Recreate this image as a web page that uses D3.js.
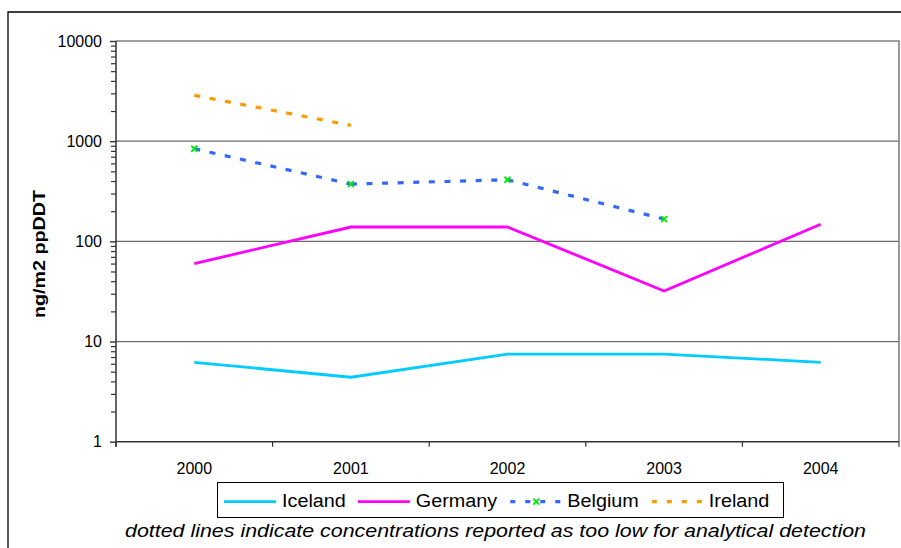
<!DOCTYPE html>
<html>
<head>
<meta charset="utf-8">
<script src="https://cdn.jsdelivr.net/npm/d3@7"></script>
<style>
  html, body { margin: 0; padding: 0; background: #fff; }
  svg { display: block; font-family: Arial, "Liberation Sans", sans-serif; }
</style>
</head>
<body>
<svg id="chart" width="901" height="548"></svg>
<script>
// Deposition of ppDDT (ng/m2), per country and year
const years = ["2000", "2001", "2002", "2003", "2004"];
const iceland = [6.2, 4.4, 7.5, 7.5, 6.2];
const germany = [60, 139, 139, 32, 148];
const belgium = [840, 373, 412, 167, null];
const ireland = [2870, 1440, null, null, null];
const yMajorTicks = [1, 10, 100, 1000, 10000];
const yAxisTitle = "ng/m2 ppDDT";
const footnote = "dotted lines indicate concentrations reported as too low for analytical detection";

const series = [
  { name: "Iceland", values: iceland, color: "#00ccff", dashed: false, marker: false },
  { name: "Germany", values: germany, color: "#ff00ff", dashed: false, marker: false },
  { name: "Belgium", values: belgium, color: "#3366ff", dashed: true, marker: true },
  { name: "Ireland", values: ireland, color: "#ff9900", dashed: true, marker: false }
];

const svg = d3.select("#chart");
const plot = { left: 116, right: 899, top: 41, bottom: 441.7 };
const dash = "6,9.6";

// outer frame (runs off the right and bottom edges)
svg.append("path")
  .attr("d", "M8,560 V12 H910")
  .attr("fill", "none").attr("stroke", "#000").attr("stroke-width", 1.3);

const x = d3.scaleBand().domain(years).range([plot.left, plot.right]).padding(0);
const cx = d => x(d) + x.bandwidth() / 2;
const y = d3.scaleLog().domain([1, 10000]).range([plot.bottom, plot.top]);

// gridlines at each decade
svg.append("g").selectAll("line")
  .data(yMajorTicks.slice(1, -1))
  .join("line")
  .attr("x1", plot.left).attr("x2", plot.right)
  .attr("y1", d => y(d)).attr("y2", d => y(d))
  .attr("stroke", "#6a6a6a").attr("stroke-width", 1.2);

// plot border (top and right)
svg.append("path")
  .attr("d", `M${plot.left},${y(10000)} H${plot.right} V${plot.bottom}`)
  .attr("fill", "none").attr("stroke", "#808080").attr("stroke-width", 1.6);

// y axis: minor ticks, then major ticks with labels
const minorTicks = [];
for (let p = 0; p < 4; p++) for (let m = 2; m <= 9; m++) minorTicks.push(m * Math.pow(10, p));

svg.append("g")
  .attr("transform", `translate(${plot.left},0)`)
  .call(d3.axisLeft(y).tickValues(minorTicks).tickSize(5).tickFormat(""))
  .call(g => g.select(".domain").remove())
  .call(g => g.selectAll("line").attr("stroke", "#333").attr("stroke-width", 1.2));

svg.append("g")
  .attr("transform", `translate(${plot.left},0)`)
  .call(d3.axisLeft(y).tickValues(yMajorTicks).tickSize(6).tickPadding(8).tickFormat(d3.format("d")))
  .call(g => g.select(".domain").remove())
  .call(g => g.selectAll("line").attr("stroke", "#333").attr("stroke-width", 1.4))
  .call(g => g.selectAll("text").attr("font-size", 16).attr("fill", "#000")
    .attr("font-family", "Arial, 'Liberation Sans', sans-serif"));

svg.append("line")
  .attr("x1", plot.left).attr("x2", plot.left)
  .attr("y1", y(10000)).attr("y2", plot.bottom + 5)
  .attr("stroke", "#333").attr("stroke-width", 1.5);

// x axis: category labels centred, ticks at category boundaries
svg.append("g")
  .attr("transform", `translate(0,${plot.bottom})`)
  .call(d3.axisBottom(x).tickSize(0).tickPadding(21))
  .call(g => g.select(".domain").remove())
  .call(g => g.selectAll("text").attr("font-size", 16).attr("fill", "#000")
    .attr("font-family", "Arial, 'Liberation Sans', sans-serif"));

svg.append("line")
  .attr("x1", plot.left).attr("x2", plot.right)
  .attr("y1", plot.bottom).attr("y2", plot.bottom)
  .attr("stroke", "#333").attr("stroke-width", 1.6);

const boundaries = years.map(d => x(d)).concat([plot.right]);
svg.append("g").selectAll("line")
  .data(boundaries)
  .join("line")
  .attr("x1", d => d).attr("x2", d => d)
  .attr("y1", plot.bottom).attr("y2", plot.bottom + 5)
  .attr("stroke", "#333").attr("stroke-width", 1.2);

// y axis title
svg.append("text")
  .attr("transform", `translate(45,254) rotate(-90)`)
  .attr("text-anchor", "middle")
  .attr("font-size", 16).attr("font-weight", "bold")
  .attr("textLength", 128).attr("lengthAdjust", "spacingAndGlyphs")
  .text(yAxisTitle);

// series lines
const line = d3.line().x(d => cx(d.year)).y(d => y(d.value));
const linesG = svg.append("g");
series.forEach(s => {
  const pts = years.map((yr, i) => ({ year: yr, value: s.values[i] })).filter(d => d.value != null);
  if (s.dashed) {
    // dashed series restart their dash pattern at every point
    for (let i = 0; i < pts.length - 1; i++) {
      linesG.append("path")
        .attr("d", line([pts[i], pts[i + 1]]))
        .attr("fill", "none").attr("stroke", s.color)
        .attr("stroke-width", 3.2).attr("stroke-dasharray", dash);
    }
  } else {
    linesG.append("path")
      .attr("d", line(pts))
      .attr("fill", "none").attr("stroke", s.color)
      .attr("stroke-width", 2.8).attr("stroke-linejoin", "miter");
  }
  if (s.marker) {
    linesG.append("g").selectAll("path")
      .data(pts)
      .join("path")
      .attr("transform", d => `translate(${cx(d.year)},${y(d.value)})`)
      .attr("d", "M-3,-3L3,3M-3,3L3,-3")
      .attr("stroke", "#00ee00").attr("stroke-width", 1.8);
  }
});

// legend
const legend = svg.append("g");
legend.append("rect")
  .attr("x", 217.5).attr("y", 482.5).attr("width", 566).attr("height", 35)
  .attr("fill", "#fff").attr("stroke", "#000").attr("stroke-width", 1);

let lx = 224;
const ly = 501.7;
series.forEach(s => {
  const l = legend.append("line")
    .attr("x1", lx).attr("x2", lx + 52).attr("y1", ly).attr("y2", ly)
    .attr("stroke", s.color).attr("stroke-width", s.dashed ? 3.2 : 2.8);
  if (s.dashed) l.attr("stroke-dasharray", "5,10").attr("stroke-dashoffset", -1);
  if (s.marker) {
    legend.append("path")
      .attr("transform", `translate(${lx + 27},${ly})`)
      .attr("d", "M-3,-3L3,3M-3,3L3,-3")
      .attr("stroke", "#00ee00").attr("stroke-width", 1.8);
  }
  const t = legend.append("text")
    .attr("x", lx + 58).attr("y", ly + 5.5)
    .attr("font-size", 18)
    .text(s.name);
  const w = t.node().getComputedTextLength() * 1.1;
  t.attr("textLength", w).attr("lengthAdjust", "spacingAndGlyphs");
  lx += 58 + w + 12;
});

// footnote
svg.append("text")
  .attr("x", 125).attr("y", 536.5)
  .attr("font-size", 18.5).attr("font-style", "italic")
  .attr("textLength", 741).attr("lengthAdjust", "spacingAndGlyphs")
  .text(footnote);
</script>
</body>
</html>
